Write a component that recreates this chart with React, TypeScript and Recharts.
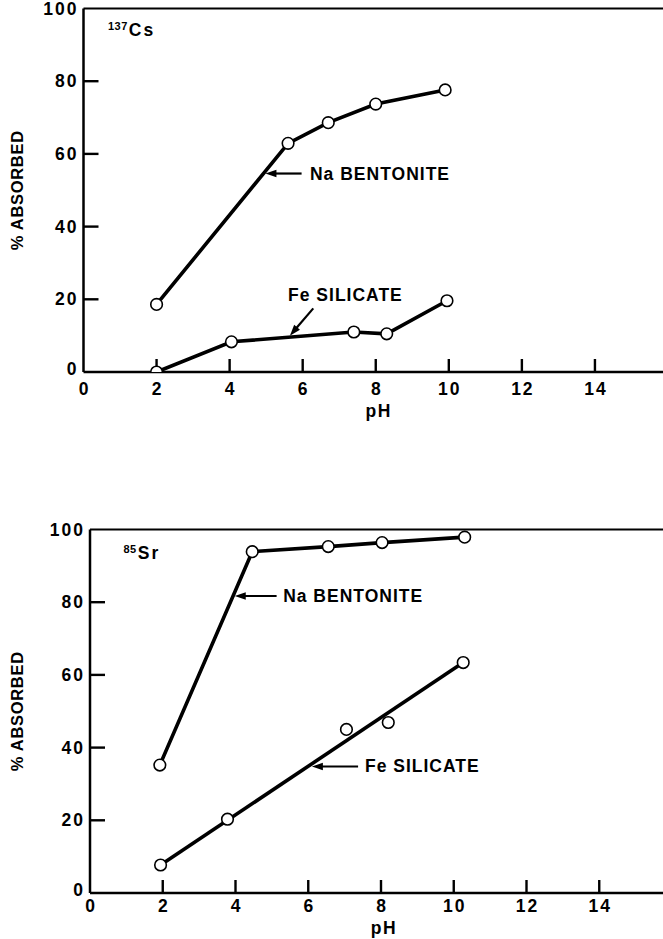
import React from 'react';
import {
  ComposedChart,
  Line,
  Scatter,
  XAxis,
  YAxis,
  ReferenceLine,
  ReferenceDot,
} from 'recharts';

// Axis ticks shared by both panels
const phTicks = [0, 2, 4, 6, 8, 10, 12, 14];
const pctTicks = [0, 20, 40, 60, 80, 100];

// 137Cs uptake (% absorbed vs pH)
const csBentonite = [
  { ph: 2.0, pct: 18.6 },
  { ph: 5.6, pct: 62.9 },
  { ph: 6.7, pct: 68.6 },
  { ph: 8.0, pct: 73.7 },
  { ph: 9.9, pct: 77.6 },
];
const csSilicate = [
  { ph: 2.0, pct: 0 },
  { ph: 4.05, pct: 8.3 },
  { ph: 7.4, pct: 11.0 },
  { ph: 8.3, pct: 10.5 },
  { ph: 9.95, pct: 19.6 },
];

// 85Sr uptake (% absorbed vs pH)
const srBentonite = [
  { ph: 1.92, pct: 35.2 },
  { ph: 4.46, pct: 93.9 },
  { ph: 6.55, pct: 95.3 },
  { ph: 8.03, pct: 96.4 },
  { ph: 10.3, pct: 97.9 },
];
const srSilicate = [
  { ph: 1.94, pct: 7.7 },
  { ph: 3.78, pct: 20.3 },
  { ph: 7.05, pct: 45.0 },
  { ph: 8.2, pct: 46.9 },
  { ph: 10.26, pct: 63.4 },
];
// straight-line fit drawn through the Fe silicate points
const srSilicateFit = [
  { ph: 1.94, pct: 7.7 },
  { ph: 10.26, pct: 63.4 },
];

const FONT = '"Liberation Sans", Arial, Helvetica, sans-serif';
const INK = '#000';
const TICK_FONT = 17.5;

const dotStyle = { r: 5.8, fill: '#fff', stroke: INK, strokeWidth: 1.6 };

const YTick = (props: any) => {
  const { x, y, payload } = props;
  const v = payload.value;
  return (
    <text
      x={Number(x) - 5}
      y={Number(y) + (v === 0 ? -3 : 0)}
      textAnchor="end"
      dominantBaseline="central"
      fontFamily={FONT}
      fontWeight="bold"
      fontSize={TICK_FONT}
      letterSpacing={2}
      fill={INK}
    >
      {v}
    </text>
  );
};

const makeXTick = (labelGap: number) => (props: any) => {
  const { x, y, payload } = props;
  return (
    <text
      x={Number(x) + 1}
      y={Number(y) + labelGap}
      textAnchor="middle"
      dominantBaseline="central"
      fontFamily={FONT}
      fontWeight="bold"
      fontSize={TICK_FONT}
      letterSpacing={2}
      fill={INK}
    >
      {payload.value}
    </text>
  );
};

// Short inward tick marks, drawn from the axis into the plot area
const InwardYTick = (p: any) => {
  const x = Math.min(p.x1, p.x2);
  return <line x1={x} x2={x + 15} y1={p.y1} y2={p.y1} stroke={INK} strokeWidth={2.4} />;
};
const InwardXTick = (p: any) => {
  const y = Math.max(p.y1, p.y2);
  return <line x1={p.x1} x2={p.x1} y1={y} y2={y - 13} stroke={INK} strokeWidth={2.4} />;
};

const Arrow = (p: any) => {
  const { x1, y1, x2, y2 } = p;
  const dx = x2 - x1;
  const dy = y2 - y1;
  const len = Math.hypot(dx, dy) || 1;
  const ux = dx / len;
  const uy = dy / len;
  const hl = 11;
  const hw = 3.8;
  const bx = x2 - ux * hl;
  const by = y2 - uy * hl;
  const pts = `${x2},${y2} ${bx - uy * hw},${by + ux * hw} ${bx + uy * hw},${by - ux * hw}`;
  return (
    <g>
      <line x1={x1} y1={y1} x2={bx + ux * 2} y2={by + uy * 2} stroke={INK} strokeWidth={2.2} />
      <polygon points={pts} fill={INK} />
    </g>
  );
};

const textShape = (label: string) => (p: any) => (
  <text
    x={p.cx}
    y={p.cy}
    dominantBaseline="central"
    fontFamily={FONT}
    fontWeight="bold"
    fontSize={17.5}
    letterSpacing={1}
    fill={INK}
  >
    {label}
  </text>
);

const isotopeShape = (mass: string, symbol: string) => (p: any) => (
  <text x={p.cx} y={p.cy + 6} fontFamily={FONT} fontWeight="bold" fill={INK}>
    <tspan fontSize={11} dy={-6} letterSpacing={0.5}>
      {mass}
    </tspan>
    <tspan fontSize={17.5} dy={6} dx={1} letterSpacing={2}>
      {symbol}
    </tspan>
  </text>
);

const yTitle = (props: any) => {
  const vb = props.viewBox || {};
  const cx = 17;
  const cy = vb.y + vb.height / 2;
  return (
    <text
      x={cx}
      y={cy}
      transform={`rotate(-90 ${cx} ${cy})`}
      textAnchor="middle"
      dominantBaseline="central"
      fontFamily={FONT}
      fontWeight="bold"
      fontSize={16.5}
      letterSpacing={0.7}
      fill={INK}
    >
      % ABSORBED
    </text>
  );
};

const makeXTitle = (gap: number) => (props: any) => {
  const vb = props.viewBox || {};
  return (
    <text
      x={vb.x + vb.width * 0.505}
      y={vb.y + gap}
      textAnchor="middle"
      dominantBaseline="central"
      fontFamily={FONT}
      fontWeight="bold"
      fontSize={TICK_FONT}
      letterSpacing={1.5}
      fill={INK}
    >
      pH
    </text>
  );
};

type Callout = {
  text: string;
  tail: [number, number];
  tip: [number, number];
  at: [number, number];
};

type PanelProps = {
  top: number;
  width: number;
  height: number;
  margin: { top: number; right: number; bottom: number; left: number };
  yAxisWidth: number;
  tickGap: number;
  titleGap: number;
  isotope: { mass: string; symbol: string; at: [number, number] };
  callouts: Callout[];
  children: React.ReactNode;
};

const axisLine = { stroke: INK, strokeWidth: 2.5 };

function Panel(props: PanelProps) {
  const { top, width, height, margin, yAxisWidth, tickGap, titleGap, isotope, callouts, children } = props;
  return (
    <div style={{ position: 'absolute', left: 0, top, width, height }}>
      <ComposedChart width={width} height={height} margin={margin}>
        <XAxis
          dataKey="ph"
          type="number"
          domain={[0, 16]}
          ticks={phTicks}
          interval={0}
          allowDataOverflow
          height={40}
          tickLine={false}
          tickSize={0}
          tickMargin={0}
          axisLine={axisLine}
          tick={makeXTick(tickGap)}
          label={makeXTitle(titleGap)}
        />
        <YAxis
          dataKey="pct"
          type="number"
          domain={[0, 100]}
          ticks={pctTicks}
          interval={0}
          allowDataOverflow
          width={yAxisWidth}
          tickLine={false}
          tickSize={0}
          tickMargin={0}
          axisLine={axisLine}
          tick={YTick}
          label={yTitle}
        />
        <ReferenceLine y={100} stroke={INK} strokeWidth={2.2} />
        {pctTicks
          .filter((v) => v > 0 && v < 100)
          .map((v) => (
            <ReferenceLine key={'yt' + v} y={v} shape={InwardYTick} />
          ))}
        {phTicks
          .filter((v) => v > 0)
          .map((v) => (
            <ReferenceLine key={'xt' + v} x={v} shape={InwardXTick} />
          ))}
        {children}
        {callouts.map((c) => (
          <ReferenceLine
            key={c.text + '-arrow'}
            segment={[
              { x: c.tail[0], y: c.tail[1] },
              { x: c.tip[0], y: c.tip[1] },
            ]}
            shape={Arrow}
          />
        ))}
        {callouts.map((c) => (
          <ReferenceDot key={c.text} x={c.at[0]} y={c.at[1]} r={0} shape={textShape(c.text)} />
        ))}
        <ReferenceDot
          x={isotope.at[0]}
          y={isotope.at[1]}
          r={0}
          shape={isotopeShape(isotope.mass, isotope.symbol)}
        />
      </ComposedChart>
    </div>
  );
}

const lineProps = {
  type: 'linear' as const,
  dataKey: 'pct',
  stroke: INK,
  strokeWidth: 3.6,
  isAnimationActive: false,
  activeDot: false,
};

const openCircle = (p: any) => (
  <circle cx={p.cx} cy={p.cy} r={dotStyle.r} fill="#fff" stroke={INK} strokeWidth={dotStyle.strokeWidth} />
);

export default function App() {
  return (
    <div
      style={{
        position: 'absolute',
        left: 0,
        top: 0,
        width: 663,
        height: 939,
        overflow: 'hidden',
        background: '#fff',
      }}
    >
      <Panel
        top={0}
        width={680}
        height={430}
        margin={{ top: 8.5, right: 12, bottom: 18, left: 0 }}
        yAxisWidth={83.5}
        tickGap={17}
        titleGap={39}
        isotope={{ mass: '137', symbol: 'Cs', at: [0.67, 94] }}
        callouts={[
          { text: 'Na BENTONITE', tail: [5.97, 54.6], tip: [4.98, 54.6], at: [6.2, 54.4] },
          { text: 'Fe SILICATE', tail: [6.29, 17.5], tip: [5.65, 10.0], at: [5.6, 21.2] },
        ]}
      >
        <Line {...lineProps} data={csBentonite} dot={dotStyle} />
        <Line {...lineProps} data={csSilicate} dot={dotStyle} />
      </Panel>
      <Panel
        top={480}
        width={684}
        height={459}
        margin={{ top: 49.5, right: 12, bottom: 6, left: 0 }}
        yAxisWidth={90}
        tickGap={13}
        titleGap={35}
        isotope={{ mass: '85', symbol: 'Sr', at: [0.92, 93.4] }}
        callouts={[
          { text: 'Na BENTONITE', tail: [5.13, 81.7], tip: [3.98, 81.7], at: [5.31, 81.7] },
          { text: 'Fe SILICATE', tail: [7.37, 34.8], tip: [6.1, 34.8], at: [7.56, 34.9] },
        ]}
      >
        <Line {...lineProps} data={srBentonite} dot={dotStyle} />
        <Line {...lineProps} data={srSilicateFit} dot={false} />
        <Scatter data={srSilicate} dataKey="pct" shape={openCircle} isAnimationActive={false} />
      </Panel>
    </div>
  );
}
